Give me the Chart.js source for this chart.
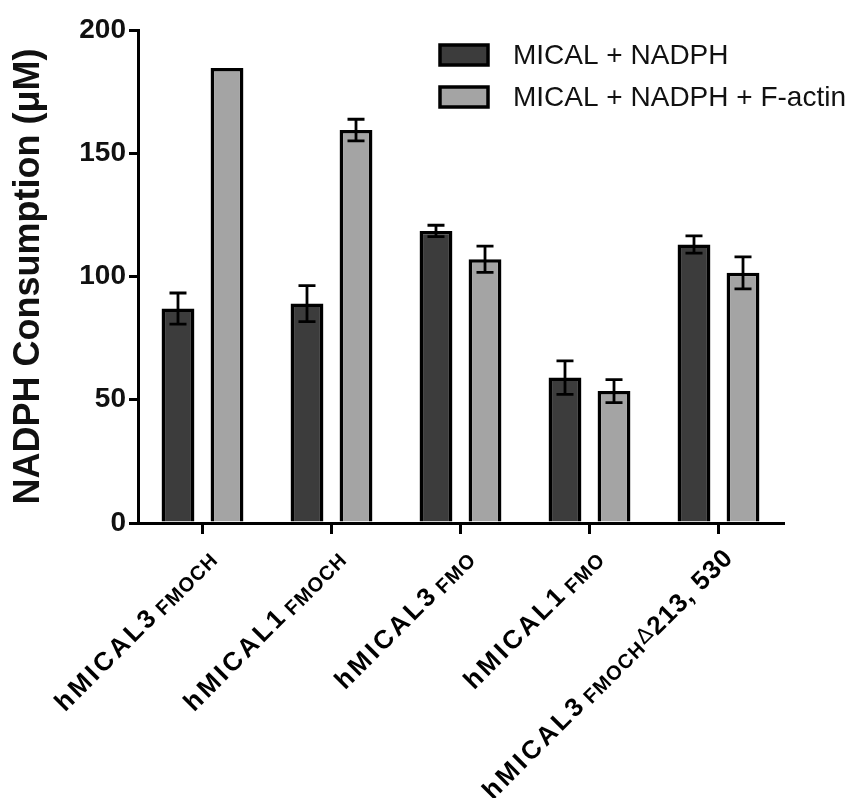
<!DOCTYPE html>
<html>
<head>
<meta charset="utf-8">
<script src="https://cdn.jsdelivr.net/npm/chart.js@4.4.1/dist/chart.umd.min.js"></script>
<style>
  html, body { margin: 0; padding: 0; background: #fff; }
  #wrap { width: 864px; height: 798px; }
</style>
</head>
<body>
<div id="wrap"><canvas id="myChart" width="864" height="798"></canvas></div>
<script>
// data
const labelMain = ['hMICAL3', 'hMICAL1', 'hMICAL3', 'hMICAL1', 'hMICAL3'];
const labelSub = ['FMOCH', 'FMOCH', 'FMO', 'FMO', 'FMOCH'];
const labelDelta = ['', '', '', '', '\u0394'];
const labelTail = ['', '', '', '', '213, 530'];
const categories = labelMain.map((m, i) => m + labelSub[i] + labelDelta[i] + labelTail[i]);

const seriesNames = ['MICAL + NADPH', 'MICAL + NADPH + F-actin'];
const nadph = [87, 89, 118.5, 59, 113];
const nadphErr = [6.3, 7.3, 2.3, 6.8, 3.5];
const actin = [184.6, 159.4, 107, 53.5, 101.5];
const actinErr = [0, 4.4, 5.3, 4.7, 6.5];
const yTicks = [0, 50, 100, 150, 200];

const errors = [nadphErr, actinErr];
const fills = ['#3c3c3c', '#a4a4a4'];
const FONT = '"Liberation Sans", Arial, sans-serif';

// error bars, drawn from the y scale
const errorBars = {
    id: 'errorBars',
    afterDatasetsDraw(chart) {
        const ctx = chart.ctx;
        const y = chart.scales.y;
        ctx.save();
        ctx.strokeStyle = '#000';
        ctx.lineWidth = 2.8;
        chart.data.datasets.forEach((ds, d) => {
            chart.getDatasetMeta(d).data.forEach((bar, i) => {
                const e = errors[d][i];
                if (!e) return;
                const top = y.getPixelForValue(ds.data[i] + e);
                const bot = y.getPixelForValue(ds.data[i] - e);
                const cap = 8.5;
                ctx.beginPath();
                ctx.moveTo(bar.x, top); ctx.lineTo(bar.x, bot);
                ctx.moveTo(bar.x - cap, top); ctx.lineTo(bar.x + cap, top);
                ctx.moveTo(bar.x - cap, bot); ctx.lineTo(bar.x + cap, bot);
                ctx.stroke();
            });
        });
        ctx.restore();
    }
};

// rotated category labels with subscripts
const richLabels = {
    id: 'richLabels',
    afterDraw(chart) {
        const ctx = chart.ctx;
        const x = chart.scales.x;
        const mainFont = 'bold 26px ' + FONT;
        const subFont = 'bold 20px ' + FONT;
        const deltaFont = '22px ' + FONT;
        ctx.save();
        ctx.fillStyle = '#000';
        ctx.textBaseline = 'alphabetic';
        categories.forEach((c, i) => {
            const parts = [
                { t: labelMain[i], f: mainFont, dy: 0, ls: '3px', gap: 4 },
                { t: labelSub[i], f: subFont, dy: 2, ls: '1px', gap: 1 },
                { t: labelDelta[i], f: deltaFont, dy: -3, ls: '0px', gap: 1 },
                { t: labelTail[i], f: mainFont, dy: 0, ls: '1px', gap: 0 }
            ];
            let total = 0;
            parts.forEach(p => {
                ctx.font = p.f;
                ctx.letterSpacing = p.ls;
                p.w = p.t ? ctx.measureText(p.t).width : 0;
                total += p.w + (p.t ? p.gap : 0);
            });
            const px = x.getPixelForTick(i) + 16;
            const py = x.top + 36;
            ctx.save();
            ctx.translate(px, py);
            ctx.rotate(-Math.PI / 4);
            let cx = -total;
            parts.forEach(p => {
                if (!p.t) return;
                ctx.font = p.f;
                ctx.letterSpacing = p.ls;
                ctx.fillText(p.t, cx, p.dy);
                cx += p.w + p.gap;
            });
            ctx.restore();
        });
        ctx.restore();
    }
};

// legend at top right, stacked
const stackedLegend = {
    id: 'stackedLegend',
    afterDraw(chart) {
        const ctx = chart.ctx;
        ctx.save();
        ctx.font = '28px ' + FONT;
        ctx.textBaseline = 'middle';
        chart.data.datasets.forEach((ds, d) => {
            const cy = 55 + d * 42;
            ctx.fillStyle = ds.backgroundColor;
            ctx.fillRect(440, cy - 10, 48, 20);
            ctx.strokeStyle = '#000';
            ctx.lineWidth = 3.5;
            ctx.strokeRect(440, cy - 10, 48, 20);
            ctx.fillStyle = '#111';
            ctx.fillText(ds.label, 513, cy + 1);
        });
        ctx.restore();
    }
};

const ctx = document.getElementById('myChart').getContext('2d');
new Chart(ctx, {
    type: 'bar',
    data: {
        labels: categories,
        datasets: [
            { label: seriesNames[0], data: nadph, backgroundColor: fills[0] },
            { label: seriesNames[1], data: actin, backgroundColor: fills[1] }
        ]
    },
    options: {
        responsive: false,
        animation: false,
        layout: { padding: { top: 30, right: 81, left: 0, bottom: 0 } },
        datasets: {
            bar: {
                borderColor: '#000',
                borderWidth: 3.5,
                categoryPercentage: 0.76,
                barPercentage: 0.67
            }
        },
        plugins: {
            legend: { display: false },
            tooltip: { enabled: false }
        },
        scales: {
            x: {
                grid: { offset: false, drawOnChartArea: false, drawTicks: true, tickLength: 11, lineWidth: 3, color: '#000' },
                border: { display: true, width: 3, color: '#000' },
                ticks: { display: false },
                afterFit(scale) { scale.height = 275; }
            },
            y: {
                min: 0,
                max: 200,
                afterBuildTicks(scale) { scale.ticks = yTicks.map(v => ({ value: v })); },
                grid: { drawOnChartArea: false, drawTicks: true, tickLength: 9, lineWidth: 3, color: '#000' },
                border: { display: true, width: 3, color: '#000' },
                ticks: { color: '#111', padding: 3, font: { family: FONT, size: 28, weight: 'bold' } },
                title: {
                    display: true,
                    text: 'NADPH Consumption (\u03bcM)',
                    color: '#111',
                    padding: { top: 7, bottom: 0 },
                    font: { family: FONT, size: 36, weight: 'bold' }
                },
                afterFit(scale) { scale.width = 138; }
            }
        }
    },
    plugins: [errorBars, richLabels, stackedLegend]
});
</script>
</body>
</html>
